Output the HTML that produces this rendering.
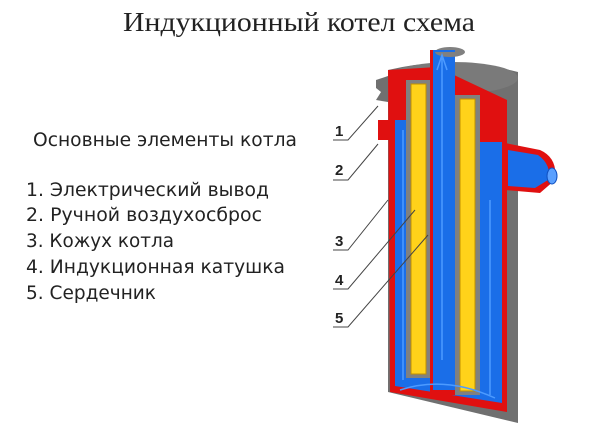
<!DOCTYPE html>
<html><head><meta charset="utf-8"><style>
body{margin:0;width:600px;height:426px;background:#fff;overflow:hidden}
svg{display:block}
</style></head><body>
<svg width="600" height="426" viewBox="0 0 600 426" xmlns="http://www.w3.org/2000/svg">
<text x="123" y="31" font-family="Liberation Serif, serif" font-size="27" textLength="352" lengthAdjust="spacingAndGlyphs" fill="#222">Индукционный котел схема</text>
<g font-family="DejaVu Sans, Liberation Sans, sans-serif" font-size="18.5" fill="#222" lengthAdjust="spacingAndGlyphs">
<text x="33" y="146" textLength="264" lengthAdjust="spacingAndGlyphs">Основные элементы котла</text>
<text x="26" y="196" textLength="243" lengthAdjust="spacingAndGlyphs">1. Электрический вывод</text>
<text x="26" y="221" textLength="236" lengthAdjust="spacingAndGlyphs">2. Ручной воздухосброс</text>
<text x="26" y="247" textLength="148" lengthAdjust="spacingAndGlyphs">3. Кожух котла</text>
<text x="26" y="273" textLength="259" lengthAdjust="spacingAndGlyphs">4. Индукционная катушка</text>
<text x="26" y="299" textLength="130" lengthAdjust="spacingAndGlyphs">5. Сердечник</text>
</g>
<!-- body gray -->
<path d="M388 70 Q450 55 518 72 L518 423 L388 392 Z" fill="#707070"/>
<ellipse cx="453" cy="78" rx="65" ry="16" fill="#7a7a7a"/>
<!-- red cutaway -->
<path d="M388 70 L437 67 L507 100 L507 412 L390 392 Z" fill="#e01010"/>
<!-- blue water -->
<path d="M395 120 L395 386 L502 403 L502 142 L475 142 L475 120 Z" fill="#1a6ee8"/>
<!-- outlet -->
<path d="M505 143 L540 150 Q558 158 555 180 L540 193 L505 190 Z" fill="#e01010"/>
<path d="M508 150 L538 155 Q552 165 548 180 L535 188 L508 186 Z" fill="#1a6ee8"/>
<ellipse cx="552" cy="176" rx="5" ry="8" fill="#5aa0ff" stroke="#1050c0"/>
<!-- rods gray frames -->
<rect x="406" y="80" width="24" height="298" fill="#808080"/>
<rect x="455" y="95" width="25" height="300" fill="#808080"/>
<rect x="411" y="84" width="15" height="290" fill="#ffd21a" stroke="#c09000"/>
<rect x="460" y="99" width="15" height="292" fill="#ffd21a" stroke="#c09000"/>
<!-- central pipe -->
<rect x="430" y="50" width="25" height="345" fill="#e01010"/>
<rect x="433" y="50" width="22" height="340" fill="#1a6ee8"/>
<ellipse cx="450" cy="52" rx="15" ry="5" fill="#808080"/>
<path d="M433 52 L455 52 L455 50 L433 50Z" fill="#1a6ee8"/>
<g stroke="#4d9bff" stroke-width="1.5" fill="none">
<path d="M442 360 L442 55 M437 70 L442 55 L447 70"/>
<path d="M403 130 L403 380"/><path d="M490 200 L490 395"/>
<path d="M400 390 Q445 375 495 398"/>
</g>
<!-- connectors left -->
<path d="M376 80 L388 76 L388 102 L376 100 L381 92 L376 88Z" fill="#707070"/>
<rect x="378" y="120" width="12" height="20" fill="#e01010"/>
<!-- labels -->
<g font-family="Liberation Sans, sans-serif" font-size="15" font-weight="bold" fill="#222">
<text x="335" y="136">1</text><text x="335" y="175">2</text><text x="335" y="246">3</text><text x="335" y="285">4</text><text x="335" y="323">5</text>
</g>
<g stroke="#444" stroke-width="1" fill="none">
<path d="M333 140 L348 140 L378 106"/>
<path d="M333 180 L348 180 L378 144"/>
<path d="M333 250 L348 250 L388 200"/>
<path d="M333 289 L348 289 L415 210"/>
<path d="M333 327 L348 327 L428 235"/>
</g>
</svg>
</body></html>
